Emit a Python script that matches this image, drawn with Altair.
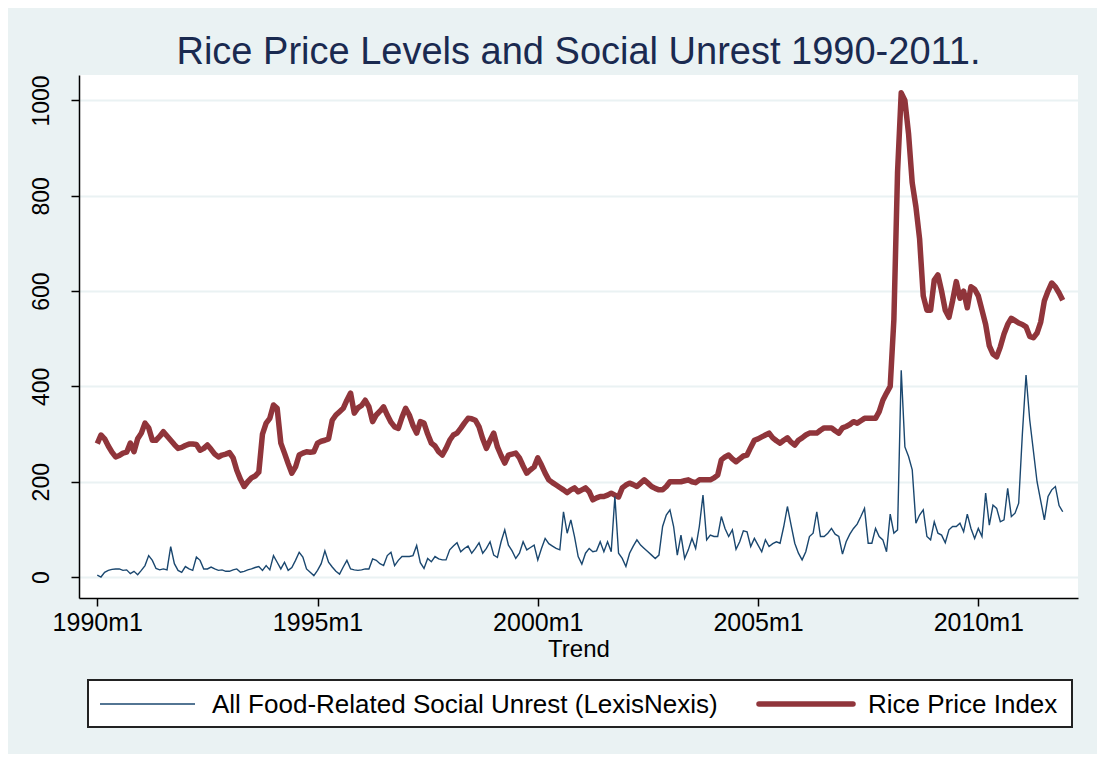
import altair as alt
import pandas as pd

# Monthly values, 1990m1 .. 2011m12 (one row per year)
rice = [
    280, 298, 290, 275, 262, 252, 255, 260, 262, 281, 263, 290,
    302, 323, 313, 287, 287, 295, 305, 296, 287, 278, 270, 272,
    276, 279, 279, 278, 266, 270, 277, 268, 258, 252, 256, 258,
    261, 250, 224, 205, 190, 200, 208, 212, 220, 300, 323, 333,
    361, 354, 281, 260, 238, 218, 231, 256, 260, 263, 262, 263,
    281, 285, 287, 290, 329, 340, 347, 354, 371, 386, 344, 355,
    360, 371, 357, 326, 340, 348, 357, 340, 325, 315, 312, 335,
    354, 340, 318, 302, 326, 323, 300, 281, 275, 263, 256, 270,
    287, 298, 302, 312, 323, 333, 332, 329, 315, 290, 270, 287,
    302, 273, 255, 239, 256, 258, 260, 250, 233, 218, 225, 231,
    250, 235, 218, 204, 198, 193, 188, 183, 177, 183, 187, 179,
    183, 187, 179, 162, 166, 169, 169, 172, 176, 172, 168, 187,
    193, 197, 194, 190, 197, 204, 197, 190, 186, 183, 183, 190,
    200, 200, 200, 200, 202, 204, 200, 198, 204, 204, 204, 204,
    208, 214, 246, 252, 256, 248, 242, 248, 254, 256, 272, 287,
    290, 294, 298, 302, 292, 286, 281, 287, 292, 283, 277, 287,
    292, 298, 302, 302, 302, 308, 313, 313, 313, 307, 302, 313,
    316, 320, 326, 323, 328, 333, 333, 333, 333, 347, 371, 386,
    400, 540, 850, 1016, 1000, 930, 827, 777, 710, 590, 560, 560,
    623, 634, 600, 560, 545, 580, 620, 585, 600, 565, 609, 604,
    590, 560, 530, 485, 468, 462, 483, 510, 530, 543, 538, 533,
    530, 525, 505, 502, 512, 535, 580, 600, 617, 609, 596, 581,
]

unrest = [
    4, 0, 10, 14, 16, 17, 17, 14, 15, 7, 12, 5,
    14, 24, 45, 35, 18, 15, 17, 15, 64, 28, 14, 10,
    22, 17, 14, 42, 35, 17, 17, 21, 17, 14, 15, 12,
    12, 15, 17, 10, 12, 15, 17, 20, 22, 14, 24, 15,
    45, 31, 17, 31, 14, 20, 35, 52, 42, 17, 10, 3,
    14, 28, 55, 31, 21, 12, 6, 21, 35, 17, 15, 14,
    15, 17, 17, 38, 35, 28, 24, 45, 52, 24, 35, 43,
    43, 43, 45, 66, 30, 18, 39, 32, 43, 38, 36, 36,
    57, 65, 72, 53, 60, 65, 50, 60, 72, 50, 60, 74,
    46, 41, 74, 99, 67, 55, 39, 50, 74, 57, 62, 67,
    36, 60, 81, 70, 65, 60, 57, 137, 92, 120, 85, 43,
    27, 50, 60, 53, 55, 74, 53, 74, 53, 169, 50, 39,
    22, 50, 65, 78, 67, 60, 53, 46, 39, 46, 106, 130,
    141, 106, 46, 88, 39, 57, 81, 60, 106, 172, 78, 88,
    85, 85, 127, 102, 85, 99, 58, 74, 97, 95, 64, 81,
    67, 53, 78, 64, 70, 74, 71, 106, 148, 109, 71, 50,
    36, 53, 85, 92, 137, 85, 85, 92, 102, 90, 85, 48,
    74, 90, 102, 111, 127, 144, 71, 71, 102, 85, 78, 53,
    132, 92, 99, 434, 273, 253, 225, 113, 130, 141, 85, 78,
    116, 92, 88, 72, 99, 106, 106, 113, 95, 132, 102, 81,
    102, 85, 176, 109, 151, 144, 116, 120, 186, 127, 134, 155,
    300, 424, 330, 265, 200, 160, 120, 169, 183, 190, 150, 137,
]

UNREST = "All Food-Related Social Unrest (LexisNexis)"
RICE = "Rice Price Index"
x_ticks = [1990, 1995, 2000, 2005, 2010]
y_ticks = [0, 200, 400, 600, 800, 1000]

UNREST_COLOR = "#1a476f"
RICE_COLOR = "#90353b"

t = [1990 + i / 12 for i in range(len(rice))]
df_rice = pd.DataFrame({"t": t, "v": rice, "s": RICE})
df_unrest = pd.DataFrame({"t": t[: len(unrest)], "v": unrest, "s": UNREST})

FONT = "Liberation Sans"

x = alt.X(
    "t:Q",
    scale=alt.Scale(domain=[1989.585, 2012.263], nice=False, zero=False),
    axis=alt.Axis(
        values=x_ticks,
        labelExpr="datum.value + 'm1'",
        title="Trend",
        grid=False,
    ),
)
y = alt.Y(
    "v:Q",
    scale=alt.Scale(domain=[-44, 1053.5], nice=False, zero=False),
    axis=alt.Axis(values=y_ticks, title=None, labelAngle=270, format="d",
                  labelAlign="center", labelBaseline="bottom"),
)

rice_line = alt.Chart(df_rice).mark_line(
    color=RICE_COLOR, strokeWidth=5.5, strokeJoin="round"
).encode(x=x, y=y)
unrest_line = alt.Chart(df_unrest).mark_line(
    color=UNREST_COLOR, strokeWidth=1.4
).encode(x=x, y=y)

# legend drawn below the plot area
leg_box = alt.Chart(pd.DataFrame({"k": [0]})).mark_rect(
    fill="white", stroke="#222222", strokeWidth=2
).encode(x=alt.value(9), x2=alt.value(993), y=alt.value(605), y2=alt.value(652))
leg_u_line = alt.Chart(pd.DataFrame({"k": [0]})).mark_rule(
    color=UNREST_COLOR, strokeWidth=1.6
).encode(x=alt.value(21), x2=alt.value(116), y=alt.value(629))
leg_r_line = alt.Chart(pd.DataFrame({"k": [0]})).mark_rule(
    color=RICE_COLOR, strokeWidth=5.5, strokeCap="round"
).encode(x=alt.value(680), x2=alt.value(774), y=alt.value(629))
leg_u_text = alt.Chart(pd.DataFrame({"label": [UNREST]})).mark_text(
    font=FONT, fontSize=26, align="left", baseline="middle", color="black"
).encode(text="label:N", x=alt.value(133), y=alt.value(630))
leg_r_text = alt.Chart(pd.DataFrame({"label": [RICE]})).mark_text(
    font=FONT, fontSize=26, align="left", baseline="middle", color="black"
).encode(text="label:N", x=alt.value(789), y=alt.value(630))

chart = (
    alt.layer(rice_line, unrest_line, leg_box, leg_u_line, leg_r_line,
              leg_u_text, leg_r_text)
    .properties(
        width=999,
        height=523,
        title=alt.TitleParams(
            "Rice Price Levels and Social Unrest 1990-2011.",
            fontSize=38, font=FONT, fontWeight="normal", color="#1a2a50",
            anchor="middle", offset=3,
        ),
        background="#eaf2f3",
        padding={"left": 71, "top": 67, "right": 19, "bottom": 156},
        autosize=alt.AutoSizeParams(type="none"),
    )
    .configure_view(fill="white", stroke=None)
    .configure_axis(
        labelFont=FONT, titleFont=FONT, labelColor="black", titleColor="black",
        domainColor="black", domainWidth=1.5, tickColor="black", tickWidth=1.5,
        tickSize=8, gridColor="#eaf2f3", gridWidth=2,
    )
    .configure_axisX(labelFontSize=25, labelPadding=4, titleFontSize=24,
                     titleFontWeight="normal", titlePadding=2)
    .configure_axisY(labelFontSize=23, labelPadding=18)
)

chart.save("out.html", embed_options={"renderer": "svg", "actions": False})
